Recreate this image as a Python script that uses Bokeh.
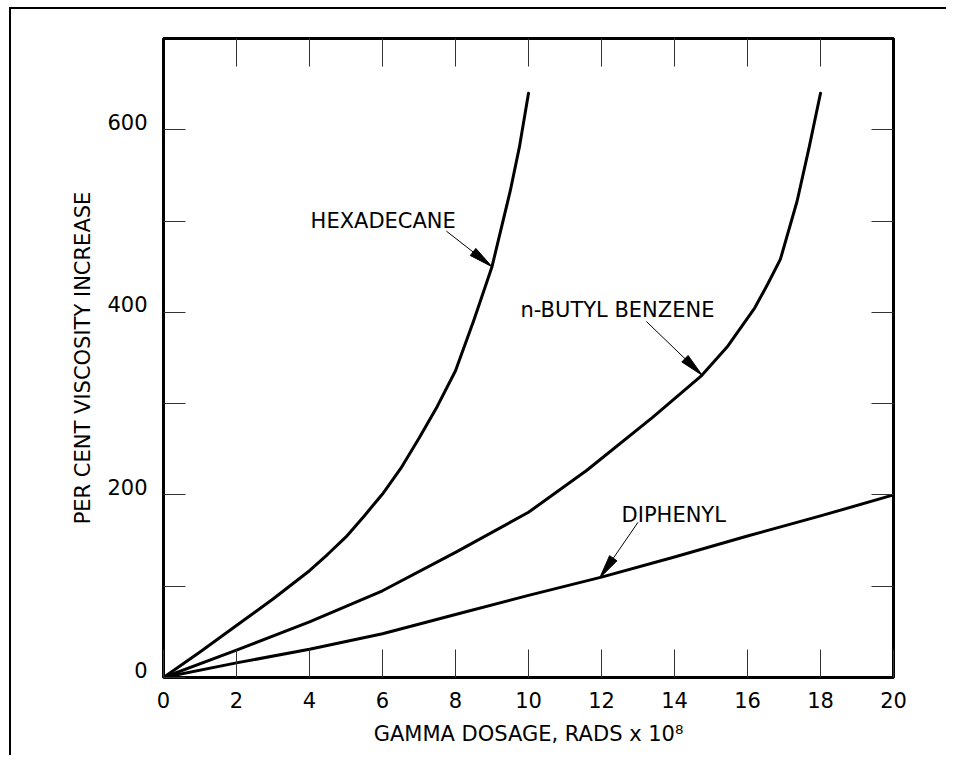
import math
from bokeh.plotting import figure
from bokeh.models import Range1d, LinearAxis, FixedTicker, Label
from bokeh.embed import file_html
from bokeh.resources import INLINE

# ---- data ----
hex_x = [0, 1, 2, 3, 4, 4.5, 5, 5.5, 6, 6.5, 7, 7.5, 8, 8.5, 9, 9.5, 9.75, 10]
hex_y = [0, 28, 57, 86, 117, 135, 154, 177, 201, 229, 262, 297, 336, 391, 450, 533, 581, 640]

nbb_x = [0, 2, 4, 6, 8, 10, 11.6, 13.4, 14.75, 15.44, 16.2, 16.54, 16.9, 17.36, 17.69, 18]
nbb_y = [0, 30, 61, 95, 137, 181, 227, 285, 331, 362, 405, 430, 458, 522, 581, 640]

dip_x = [0, 2, 4, 6, 8, 10, 12, 14, 16, 18, 20]
dip_y = [0, 16, 31, 48, 69, 90, 110, 132, 155, 177, 200]

x_ticks = [0, 2, 4, 6, 8, 10, 12, 14, 16, 18, 20]
y_ticks = [0, 200, 400, 600]
y_minor = [100, 300, 500]

x_title = "GAMMA DOSAGE, RADS x 10\u2078"
y_title = "PER CENT VISCOSITY INCREASE"

FONT = "DejaVu Sans"
FS = "21px"
X_MAX, Y_MAX = 20, 700
FRAME_W, FRAME_H = 730, 639
SX = FRAME_W / X_MAX
SY = FRAME_H / Y_MAX
LBL_SHIFT = 8  # px the y tick labels sit above their ticks
W, H = 946, 755

p = figure(width=W, height=H, output_backend="svg", toolbar_location=None,
           x_range=Range1d(0, X_MAX), y_range=Range1d(0, Y_MAX),
           x_axis_location=None, y_axis_location=None,
           min_border_left=163, min_border_right=W - 163 - FRAME_W,
           min_border_top=38, min_border_bottom=H - 38 - FRAME_H)
# outer drawing frame: left and top edges only (the rest lies off the page)
p.styles = {"background": "linear-gradient(#000, #000) 9px 7px / 2px calc(100% - 7px) no-repeat, "
                          "linear-gradient(#000, #000) 9px 7px / calc(100% - 9px) 2px no-repeat, #fff"}
p.extra_y_ranges = {"lbl": Range1d(-LBL_SHIFT / SY, Y_MAX - LBL_SHIFT / SY)}
p.xgrid.grid_line_color = None
p.ygrid.grid_line_color = None
p.outline_line_color = "black"
p.outline_line_width = 3
p.background_fill_color = "white"
p.border_fill_color = None

def style_axis(ax, tick_len, show_labels, standoff):
    ax.axis_line_color = None
    ax.major_tick_in = tick_len
    ax.major_tick_out = 0
    ax.major_tick_line_color = "#333333"
    ax.major_tick_line_width = 1
    ax.minor_tick_in = tick_len
    ax.minor_tick_out = 0
    ax.minor_tick_line_color = "#333333"
    ax.minor_tick_line_width = 1
    ax.major_label_text_font = FONT
    ax.major_label_text_font_size = FS if show_labels else "2px"
    ax.major_label_text_color = "black" if show_labels else None
    ax.major_label_standoff = standoff
    ax.axis_label_text_font = FONT
    ax.axis_label_text_font_size = FS
    ax.axis_label_text_font_style = "normal"
    ax.axis_label_text_color = "black"

bottom = LinearAxis(ticker=FixedTicker(ticks=x_ticks), axis_label=x_title)
style_axis(bottom, 28, True, 14)
bottom.axis_label_standoff = 11
p.add_layout(bottom, "below")

top = LinearAxis(ticker=FixedTicker(ticks=x_ticks[1:-1]))
style_axis(top, 28, False, 0)
p.add_layout(top, "above")

# left: ticks on the main range
left_ticks = LinearAxis(ticker=FixedTicker(ticks=y_ticks, minor_ticks=y_minor))
style_axis(left_ticks, 22, False, 0)
p.add_layout(left_ticks, "left")

# left: labels, drawn slightly above their ticks as in the original
left_lbl = LinearAxis(y_range_name="lbl", ticker=FixedTicker(ticks=y_ticks),
                      axis_label=y_title)
style_axis(left_lbl, 0, True, 16)
left_lbl.major_tick_line_color = None
left_lbl.minor_tick_line_color = None
left_lbl.axis_label_standoff = 9
p.add_layout(left_lbl, "left")

right = LinearAxis(ticker=FixedTicker(ticks=y_ticks[1:] + y_minor))
style_axis(right, 22, False, 0)
p.add_layout(right, "right")

# curves
for xs, ys in [(hex_x, hex_y), (nbb_x, nbb_y), (dip_x, dip_y)]:
    p.line(xs, ys, line_width=3, line_color="black", line_join="round", line_cap="round")

# annotations: text + arrow with narrow filled head
def arrow(tail, tip, hl=24, hw=4.5):
    dx = (tip[0] - tail[0]) * SX
    dy = (tip[1] - tail[1]) * SY
    L = math.hypot(dx, dy)
    ux, uy = dx / L, dy / L
    bx = tip[0] * SX - ux * hl
    by = tip[1] * SY - uy * hl
    nx, ny = -uy, ux
    xs = [tip[0], (bx + nx * hw) / SX, (bx - nx * hw) / SX]
    ys = [tip[1], (by + ny * hw) / SY, (by - ny * hw) / SY]
    p.line([tail[0], tip[0]], [tail[1], tip[1]], line_width=1, line_color="black")
    p.patch(xs, ys, fill_color="black", line_color="black", line_width=1)

annos = [
    ("HEXADECANE", (4.03, 499.6), (7.75, 489), (9.0, 450)),
    ("n-BUTYL BENZENE", (9.78, 403), (13.23, 390), (14.76, 331)),
    ("DIPHENYL", (12.55, 178), (13.0, 170), (11.95, 109)),
]
for text, pos, tail, tip in annos:
    p.add_layout(Label(x=pos[0], y=pos[1], text=text, text_font=FONT,
                       text_font_size=FS, text_align="left",
                       text_baseline="alphabetic", text_color="black"))
    arrow(tail, tip)

open("out.html", "w").write(file_html(p, INLINE))
